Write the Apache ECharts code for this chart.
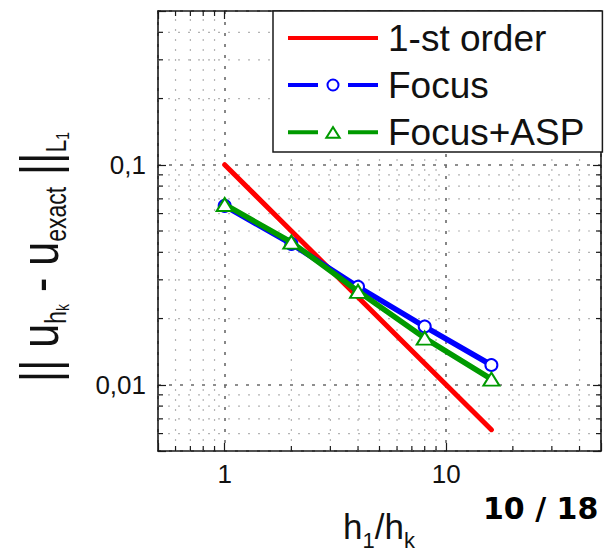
<!DOCTYPE html>
<html><head><meta charset="utf-8">
<script src="https://cdn.jsdelivr.net/npm/echarts@6/dist/echarts.min.js"></script>
<style>html,body{margin:0;padding:0;background:#fff}#c{width:611px;height:552px}</style>
</head><body><div id="c"></div>
<script>
// ---- data ----
const ratios = [1, 2, 4, 8, 16];
const firstOrder = [0.1, 0.05, 0.025, 0.0125, 0.00625];
const focus = [0.065, 0.0437, 0.0279, 0.0184, 0.0123];
const focusASP = [0.066, 0.0445, 0.0266, 0.0163, 0.0106];
const seriesNames = ['1-st order', 'Focus', 'Focus+ASP'];
const xMinorTicks = [0.6, 0.7, 0.8, 0.9, 2, 3, 4, 5, 6, 7, 8, 9, 20, 30, 40];
const yMinorTicks = [0.006, 0.007, 0.008, 0.009, 0.02, 0.03, 0.04, 0.05, 0.06, 0.07, 0.08, 0.09, 0.2, 0.3, 0.4];
const xRange = [0.5, 50];
const yRange = [0.005, 0.5];
const pageLabel = '10 / 18';

// ---- helpers ----
function pair(xs, ys) { return xs.map((x, i) => [x, ys[i]]); }
function decadeLabel(v, comma) {
  const e = Math.log10(v), r = Math.round(e);
  if (Math.abs(e - r) > 1e-6) return '';
  if (r >= 0) return String(Math.pow(10, r));
  return '0' + (comma ? ',' : '.') + '0'.repeat(-r - 1) + '1';
}
const INK = '#1a1a1a';
const FONT = 'Liberation Sans, Arial, sans-serif';
const RED = '#ff0000', BLUE = '#0000ff', GREEN = '#009a00';
const axisLine = { show: true, onZero: false, lineStyle: { color: INK, width: 1.6 } };
const majorTick = { show: true, inside: true, length: 8, lineStyle: { color: INK, width: 1.2 } };
const majorSplit = { show: true, lineStyle: { color: '#6a6a6a', width: 1.6, type: [3, 8] } };
const minorGridStyle = { stroke: '#b4b4b4', lineWidth: 1.2, lineDash: [2, 8] };
const minorTickLen = 5;

// legend icons (line – marker – line with gaps), 90 x 16 box
const segs = 'M0,6H30V10H0Z M60,6H90V10H60Z ';
const iconLine = 'path://M0,6H90V10H0Z';
const iconCircle = 'path://' + segs +
  'M38.5,8 A6.5,6.5 0 1,0 51.5,8 A6.5,6.5 0 1,0 38.5,8 Z M40.5,8 A4.5,4.5 0 1,1 49.5,8 A4.5,4.5 0 1,1 40.5,8 Z';
const iconTri = 'path://' + segs +
  'M45,1 L53.5,14.5 L36.5,14.5 Z M45,4.8 L40.15,12.5 L49.85,12.5 Z';

const chart = echarts.init(document.getElementById('c'), null, { renderer: 'svg' });
chart.setOption({
  animation: false,
  backgroundColor: '#fff',
  grid: { left: 158, right: 10, top: 11, bottom: 101 },
  xAxis: [
    { type: 'log', logBase: 10, min: xRange[0], max: xRange[1], position: 'bottom',
      axisLine: axisLine, axisTick: majorTick,
      axisLabel: { formatter: v => decadeLabel(v, true), fontSize: 26, color: '#111', fontFamily: FONT, margin: 10 },
      splitLine: majorSplit },
    { type: 'log', logBase: 10, min: xRange[0], max: xRange[1], position: 'top',
      axisLine: axisLine, axisTick: majorTick, axisLabel: { show: false }, splitLine: { show: false } }
  ],
  yAxis: [
    { type: 'log', logBase: 10, min: yRange[0], max: yRange[1], position: 'left',
      axisLine: axisLine, axisTick: majorTick,
      axisLabel: { formatter: v => decadeLabel(v, true), fontSize: 26, color: '#111', fontFamily: FONT, margin: 12 },
      splitLine: majorSplit },
    { type: 'log', logBase: 10, min: yRange[0], max: yRange[1], position: 'right',
      axisLine: axisLine, axisTick: majorTick, axisLabel: { show: false }, splitLine: { show: false } }
  ],
  legend: {
    orient: 'vertical', left: 273, top: 11,
    data: [
      { name: seriesNames[0], icon: iconLine, itemStyle: { color: RED, borderWidth: 0 } },
      { name: seriesNames[1], icon: iconCircle, itemStyle: { color: BLUE, borderWidth: 0 } },
      { name: seriesNames[2], icon: iconTri, itemStyle: { color: GREEN, borderWidth: 0 } }
    ],
    itemWidth: 90, itemHeight: 16, itemGap: 7, symbolKeepAspect: true,
    padding: [7, 18, 0, 15],
    backgroundColor: '#fff', borderColor: INK, borderWidth: 1.5, borderRadius: 0,
    textStyle: { fontSize: 37, fontFamily: FONT, color: '#111', lineHeight: 40, padding: [0, 0, 0, 5] },
    selectedMode: false, z: 10
  },
  series: [
    { type: 'custom', name: 'xminor', silent: true, z: 1, clip: false,
      data: xMinorTicks.map(v => [v, yRange[0]]),
      renderItem: (p, api) => {
        const v = api.value(0);
        const a = api.coord([v, yRange[0]]), b = api.coord([v, yRange[1]]);
        return { type: 'group', children: [
          { type: 'line', shape: { x1: a[0], y1: a[1], x2: b[0], y2: b[1] }, style: minorGridStyle },
          { type: 'line', shape: { x1: a[0], y1: a[1], x2: a[0], y2: a[1] - minorTickLen }, style: { stroke: INK, lineWidth: 1.2 } },
          { type: 'line', shape: { x1: b[0], y1: b[1], x2: b[0], y2: b[1] + minorTickLen }, style: { stroke: INK, lineWidth: 1.2 } }
        ] };
      } },
    { type: 'custom', name: 'yminor', silent: true, z: 1, clip: false,
      data: yMinorTicks.map(v => [xRange[0], v]),
      renderItem: (p, api) => {
        const v = api.value(1);
        const a = api.coord([xRange[0], v]), b = api.coord([xRange[1], v]);
        return { type: 'group', children: [
          { type: 'line', shape: { x1: a[0], y1: a[1], x2: b[0], y2: b[1] }, style: minorGridStyle },
          { type: 'line', shape: { x1: a[0], y1: a[1], x2: a[0] + minorTickLen, y2: a[1] }, style: { stroke: INK, lineWidth: 1.2 } },
          { type: 'line', shape: { x1: b[0], y1: b[1], x2: b[0] - minorTickLen, y2: b[1] }, style: { stroke: INK, lineWidth: 1.2 } }
        ] };
      } },
    { type: 'line', name: seriesNames[0], data: pair(ratios, firstOrder), symbol: 'none', z: 3,
      itemStyle: { color: RED }, lineStyle: { color: RED, width: 5, cap: 'round' } },
    { type: 'line', name: seriesNames[1], data: pair(ratios, focus), symbol: 'circle', symbolSize: 12, z: 4,
      itemStyle: { color: '#ffffff', borderColor: BLUE, borderWidth: 2 }, lineStyle: { color: BLUE, width: 5.5, cap: 'round' } },
    { type: 'line', name: seriesNames[2], data: pair(ratios, focusASP), symbol: 'triangle', symbolSize: [16, 13], z: 5,
      itemStyle: { color: '#ffffff', borderColor: GREEN, borderWidth: 2 }, lineStyle: { color: GREEN, width: 5.5, cap: 'round' } }
  ],
  graphic: [
    { type: 'text', x: 39, y: 257, rotation: Math.PI / 2, scaleY: 1.25, silent: true,
      style: { text: '{m||| u}{s|h}{ss|k}{m| - u}{s|exact}{m| ||}{s|L}{ss|1}',
        textAlign: 'center', textVerticalAlign: 'middle', fill: '#111', font: '43px ' + FONT,
        rich: { m: { fontSize: 43, fontFamily: FONT, fill: '#111' },
                s: { fontSize: 23, fontFamily: FONT, fill: '#111', padding: [28, 0, 0, 0] },
                ss: { fontSize: 14, fontFamily: FONT, fill: '#111', padding: [38, 0, 0, 0] } } } },
    { type: 'text', x: 343, y: 526, silent: true,
      style: { text: '{m|h}{s|1}{m|/h}{s|k}', textAlign: 'left', textVerticalAlign: 'middle', fill: '#111',
        rich: { m: { fontSize: 35, fontFamily: FONT, fill: '#111' },
                s: { fontSize: 22, fontFamily: FONT, fill: '#111', padding: [28, 0, 0, 0] } } } },
    { type: 'text', x: 483, y: 508, silent: true,
      style: { text: pageLabel, textAlign: 'left', textVerticalAlign: 'middle', fill: '#000',
        font: 'bold 30px "DejaVu Sans", Verdana, sans-serif' } }
  ]
});
</script></body></html>
